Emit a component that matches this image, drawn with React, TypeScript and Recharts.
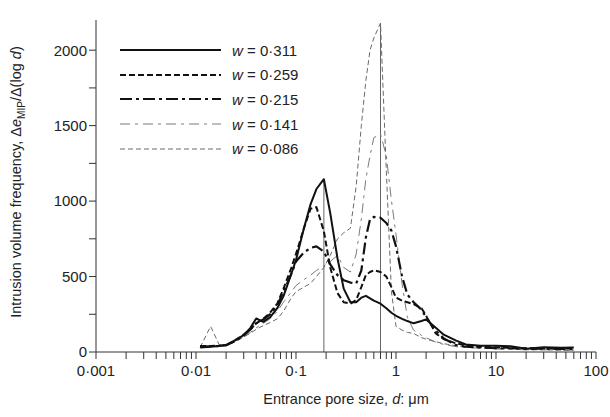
import React from "react";
import {
  LineChart, Line, XAxis, YAxis, Legend, ReferenceLine, Label,
} from "recharts";

// entrance pore size d (µm), shared by all curves
const poreSize = [
  0.011, 0.014, 0.017, 0.02, 0.025, 0.03, 0.035, 0.04, 0.047, 0.055, 0.065, 0.075,
  0.09, 0.1, 0.12, 0.14, 0.16, 0.19, 0.22, 0.26, 0.3, 0.35, 0.4, 0.45, 0.5, 0.55,
  0.6, 0.7, 0.8, 0.9, 1.0, 1.15, 1.3, 1.5, 1.8, 2.0, 2.5, 3, 4, 5, 7, 10, 14, 20,
  30, 45, 60,
];

const w311 = [
  30, 35, 40, 46, 80, 112, 160, 222, 200, 230, 290, 370,
  520, 610, 820, 980, 1080, 1145, 920, 620, 420, 330, 330, 360, 372, 355,
  340, 320, 290, 260, 240, 220, 205, 190, 205, 216, 160, 115, 75, 50, 42, 42, 38, 22,
  31, 28, 30,
];
const w259 = [
  40, 40, 42, 45, 80, 115, 150, 190, 220, 260, 320, 420,
  560, 650, 820, 950, 960, 800, 560, 390, 330, 320, 345, 430, 510, 530,
  542, 530, 500, 430, 360, 340, 330, 317, 290, 240, 123, 85, 57, 45, 35, 30, 28, 25,
  25, 22, 25,
];
const w215 = [
  35, 38, 40, 45, 75, 110, 150, 190, 215, 250, 310, 400,
  520, 600, 660, 690, 700, 665, 580, 510, 476, 460, 454, 540, 760, 880,
  895, 890, 855, 805, 700, 500, 380, 330, 280, 230, 140, 90, 45, 35, 30, 25, 25, 20,
  22, 20, 20,
];
const w141 = [
  30, 35, 40, 45, 70, 100, 130, 160, 190, 220, 270, 330,
  400, 440, 480, 510, 540, 570, 600, 640, 560, 530, 650, 880, 1150, 1300,
  1420, 1445, 1300, 1005, 780, 450, 230, 145, 110, 95, 65, 50, 35, 30, 25, 20, 18, 15,
  15, 12, 12,
];
const w086 = [
  30, 170, 50, 40, 70, 100, 125, 150, 175, 195, 220, 270,
  360, 400, 430, 455, 500, 560, 640, 750, 790, 820, 1100, 1500, 1800, 2000,
  2080, 2180, 1200, 400, 170, 145, 130, 123, 95, 85, 68, 55, 42, 35, 28, 22, 20, 15,
  15, 12, 12,
];

const xLabels: Record<string, string> = {
  "0.001": "0·001", "0.01": "0·01", "0.1": "0·1", "1": "1", "10": "10", "100": "100",
};
const decades = [0.001, 0.01, 0.1, 1, 10];
const yTicks = [0, 250, 500, 750, 1000, 1250, 1500, 1750, 2000];

const series = [
  { key: "w141", label: "0·141", color: "#7a7a7a", width: 1, dash: "10 5 3 5" },
  { key: "w086", label: "0·086", color: "#6a6a6a", width: 1, dash: "5 3" },
  { key: "w215", label: "0·215", color: "#111", width: 2.2, dash: "12 4 3 4" },
  { key: "w259", label: "0·259", color: "#111", width: 2, dash: "6 3" },
  { key: "w311", label: "0·311", color: "#111", width: 2, dash: undefined },
];
const legendOrder = ["w311", "w259", "w215", "w141", "w086"];

const rows = poreSize.map((d, i) => ({
  d, w311: w311[i], w259: w259[i], w215: w215[i], w141: w141[i], w086: w086[i],
}));

const xTicks: number[] = [];
decades.forEach((p) => {
  for (let m = 1; m <= 9; m++) xTicks.push(Number((p * m).toPrecision(3)));
});
xTicks.push(100);

function peak(vals: number[]) {
  let idx = 0;
  vals.forEach((v, i) => { if (v > vals[idx]) idx = i; });
  return { d: poreSize[idx], v: vals[idx] };
}
const peakLines = [peak(w311), peak(w086)];

const font = "'Liberation Sans', Arial, sans-serif";

function LegendBox() {
  return (
    <div style={{ fontFamily: font, fontSize: 15, color: "#222" }}>
      {legendOrder.map((k) => {
        const s = series.find((x) => x.key === k)!;
        return (
          <div key={k} style={{ display: "flex", alignItems: "center", height: 24.6 }}>
            <svg width={112} height={10}>
              <line x1={0} y1={5} x2={101} y2={5} stroke={s.color}
                strokeWidth={s.width} strokeDasharray={s.dash} />
            </svg>
            <span><i>w</i> = {s.label}</span>
          </div>
        );
      })}
    </div>
  );
}

function YTitle(props: any) {
  const vb = props.viewBox;
  const cy = vb.y + vb.height / 2 - 4;
  const x = 21;
  return (
    <text x={x} y={cy} transform={`rotate(-90 ${x} ${cy})`} textAnchor="middle"
      fontSize={14.5} fill="#222" fontFamily={font}>
      Intrusion volume frequency, Δ<tspan fontStyle="italic">e</tspan>
      <tspan fontSize={10} dy={4}>MIP</tspan>
      <tspan dy={-4}>/Δ(log </tspan><tspan fontStyle="italic">d</tspan>)
    </text>
  );
}

function XTitle(props: any) {
  const vb = props.viewBox;
  const cx = vb.x + vb.width / 2;
  return (
    <text x={cx} y={404} textAnchor="middle" fontSize={14.5} fill="#222" fontFamily={font}>
      Entrance pore size, <tspan fontStyle="italic">d</tspan>: μm
    </text>
  );
}

export default function App() {
  return (
    <div style={{ position: "absolute", left: 0, top: 0, background: "#fff" }}>
      <LineChart width={610} height={417} data={rows}
        margin={{ top: 20, right: 14, left: 10, bottom: 10 }}>
        <XAxis dataKey="d" type="number" scale="log" domain={[0.001, 100]}
          allowDataOverflow ticks={xTicks} interval={0} tickSize={7} tickMargin={6}
          height={55} stroke="#333"
          tick={{ fontSize: 15, fill: "#222", fontFamily: font }}
          tickFormatter={(v: number) => xLabels[String(v)] ?? ""}>
          <Label content={<XTitle />} />
        </XAxis>
        <YAxis type="number" domain={[0, 2200]} ticks={yTicks} interval={0}
          tickSize={7} width={86} stroke="#333"
          tick={{ fontSize: 15, fill: "#222", fontFamily: font }}
          tickFormatter={(v: number) => (v % 500 === 0 ? String(v) : "")}>
          <Label content={<YTitle />} />
        </YAxis>
        {peakLines.map((p, i) => (
          <ReferenceLine key={i} stroke="#666" strokeWidth={1}
            segment={[{ x: p.d, y: 0 }, { x: p.d, y: p.v }]} />
        ))}
        {series.map((s) => (
          <Line key={s.key} dataKey={s.key} type="linear" stroke={s.color}
            strokeWidth={s.width} strokeDasharray={s.dash} dot={false}
            strokeLinejoin="round" isAnimationActive={false} />
        ))}
        <Legend layout="horizontal" verticalAlign="middle" align="center"
          content={() => <LegendBox />}
          wrapperStyle={{ left: 120, top: 38, width: 220 }} />
      </LineChart>
    </div>
  );
}
